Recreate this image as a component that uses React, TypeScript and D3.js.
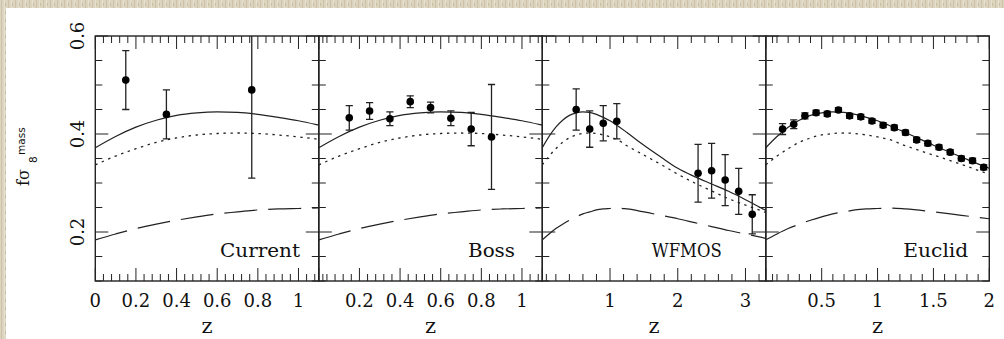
import React from 'react';
import * as d3 from 'd3';

// ---- model curves (shared by all panels) ----
const curveZ = [0, 0.1, 0.2, 0.3, 0.4, 0.5, 0.6, 0.7, 0.8, 0.9, 1.0, 1.1, 1.25, 1.5, 1.75, 2.0, 2.25, 2.5, 2.75, 3.0, 3.3];
const solidCurve = [0.372, 0.395, 0.414, 0.428, 0.438, 0.443, 0.445, 0.444, 0.440, 0.434, 0.427, 0.418, 0.403, 0.377, 0.353, 0.330, 0.313, 0.298, 0.283, 0.266, 0.244];
const dottedCurve = [0.337, 0.355, 0.370, 0.383, 0.392, 0.398, 0.401, 0.402, 0.401, 0.398, 0.394, 0.389, 0.376, 0.357, 0.338, 0.318, 0.300, 0.284, 0.268, 0.255, 0.240];
const dashedCurve = [0.184, 0.196, 0.207, 0.216, 0.224, 0.231, 0.237, 0.241, 0.245, 0.247, 0.248, 0.249, 0.247, 0.241, 0.234, 0.227, 0.219, 0.211, 0.203, 0.196, 0.187];

// ---- data points ----
const currentZ = [0.15, 0.35, 0.77];
const currentVal = [0.51, 0.44, 0.49];
const currentErr = [0.06, 0.05, 0.18];

const bossZ = [0.15, 0.25, 0.35, 0.45, 0.55, 0.65, 0.75, 0.85];
const bossVal = [0.433, 0.447, 0.431, 0.466, 0.454, 0.432, 0.41, 0.394];
const bossErr = [0.025, 0.017, 0.014, 0.012, 0.011, 0.015, 0.034, 0.107];

const wfmosZ = [0.5, 0.7, 0.9, 1.1, 2.3, 2.5, 2.7, 2.9, 3.1];
const wfmosVal = [0.45, 0.41, 0.422, 0.426, 0.32, 0.325, 0.306, 0.283, 0.236];
const wfmosErr = [0.042, 0.037, 0.036, 0.036, 0.059, 0.056, 0.052, 0.047, 0.04];

const euclidZ = [0.15, 0.25, 0.35, 0.45, 0.55, 0.65, 0.75, 0.85, 0.95, 1.05, 1.15, 1.25, 1.35, 1.45, 1.55, 1.65, 1.75, 1.85, 1.95];
const euclidVal = [0.41, 0.42, 0.437, 0.4435, 0.441, 0.449, 0.437, 0.435, 0.4265, 0.418, 0.413, 0.403, 0.388, 0.381, 0.373, 0.363, 0.350, 0.3455, 0.332];
const euclidErr = [0.011, 0.009, 0.006, 0.005, 0.005, 0.005, 0.005, 0.005, 0.005, 0.005, 0.005, 0.005, 0.005, 0.005, 0.005, 0.005, 0.005, 0.005, 0.005];

// ---- panels / axes ----
const panelNames = ['Current', 'Boss', 'WFMOS', 'Euclid'];
const panelZMax = [1.1, 1.1, 3.3, 2];
const panelMajorStep = [0.2, 0.2, 1, 0.5];
const panelMinorStep = [0.04, 0.04, 0.2, 0.1];
const panelTickLabels = [
  ['0', '0.2', '0.4', '0.6', '0.8', '1'],
  ['0.2', '0.4', '0.6', '0.8', '1'],
  ['1', '2', '3'],
  ['0.5', '1', '1.5', '2'],
];
const yTickLabels = ['0.2', '0.4', '0.6'];
const yDomain = [0.1, 0.6];
const yMajorStep = 0.2;
const yMinorStep = 0.05;

const panelPoints = [
  { z: currentZ, v: currentVal, e: currentErr },
  { z: bossZ, v: bossVal, e: bossErr },
  { z: wfmosZ, v: wfmosVal, e: wfmosErr },
  { z: euclidZ, v: euclidVal, e: euclidErr },
];

// layout (not data)
const W = 1004;
const H = 339;
const plotTop = 36;
const plotBottom = 281;
const plotLeft = 95.3;
const panelW = 223.5;
const labelEndFrac = [0.916, 0.878, 0.803, 0.906];
const labelWidths = [80, 47, 70, 65];
const INK = '#222';
const FONT = '"DejaVu Serif", serif';

function ticks(max: number, step: number) {
  const n = Math.round(max / step + 1e-6);
  return d3.range(0, n + 1).map((i) => +(i * step).toFixed(6));
}

export default function App() {
  const y = d3.scaleLinear().domain(yDomain).range([plotBottom, plotTop]);
  const yMinor = ticks(yDomain[1], yMinorStep).filter((v) => v > yDomain[0] - 1e-9);
  const yMajor = ticks(yDomain[1], yMajorStep).filter((v) => v > yDomain[0] - 1e-9);

  const curves = [
    { vals: solidCurve, dash: undefined as string | undefined, w: 1.2 },
    { vals: dottedCurve, dash: '2.4 4.6', w: 1.3 },
    { vals: dashedCurve, dash: '33 11', w: 1.2 },
  ];

  return (
    <svg width={W} height={H} style={{ position: 'absolute', left: 0, top: 0, background: '#fff' }}>
      <defs>
        <pattern id="tex" width="7" height="8" patternUnits="userSpaceOnUse">
          <rect width="7" height="8" fill="#ddd4bf" />
          <rect x="1" width="1" height="8" fill="#cdc2a8" />
          <rect x="4" width="1" height="8" fill="#e6dfcd" />
          <rect x="5" y="3" width="1" height="3" fill="#c9bda2" />
        </pattern>
        {panelNames.map((_, i) => (
          <clipPath id={`clip${i}`} key={i}>
            <rect x={plotLeft + i * panelW} y={plotTop} width={panelW} height={plotBottom - plotTop} />
          </clipPath>
        ))}
      </defs>
      <rect x={0} y={0} width={W} height={H} fill="#fff" />
      <rect x={0} y={0} width={W} height={8} fill="url(#tex)" />
      <rect x={0} y={0} width={6} height={H} fill="url(#tex)" />

      {panelNames.map((name, i) => {
        const x0 = plotLeft + i * panelW;
        const x = d3.scaleLinear().domain([0, panelZMax[i]]).range([x0, x0 + panelW]);
        const minor = ticks(panelZMax[i], panelMinorStep[i]);
        const major = ticks(panelZMax[i], panelMajorStep[i]);
        const line = d3
          .line<[number, number]>()
          .x((d) => x(d[0]))
          .y((d) => y(d[1]))
          .curve(d3.curveMonotoneX);
        const pts = panelPoints[i];
        const capW = 3.6;
        const r = 3.8;
        return (
          <g key={name}>
            <g clipPath={`url(#clip${i})`}>
              {curves.map((c, k) => (
                <path
                  key={k}
                  d={line(curveZ.map((z, j) => [z, c.vals[j]] as [number, number])) || ''}
                  fill="none"
                  stroke={INK}
                  strokeWidth={c.w}
                  strokeDasharray={c.dash}
                />
              ))}
              {pts.z.map((z, j) => {
                const cx = x(z);
                const yt = y(pts.v[j] + pts.e[j]);
                const yb = y(pts.v[j] - pts.e[j]);
                return (
                  <g key={j}>
                    <line x1={cx} x2={cx} y1={yt} y2={yb} stroke={INK} strokeWidth={1.3} />
                    <line x1={cx - capW} x2={cx + capW} y1={yt} y2={yt} stroke={INK} strokeWidth={1.3} />
                    <line x1={cx - capW} x2={cx + capW} y1={yb} y2={yb} stroke={INK} strokeWidth={1.3} />
                    <circle cx={cx} cy={y(pts.v[j])} r={r} fill="#000" />
                  </g>
                );
              })}
            </g>
            {minor.map((t) => {
              const isMajor = major.some((m) => Math.abs(m - t) < 1e-6);
              const len = isMajor ? 13 : 7;
              return (
                <g key={`xt${t}`} stroke={INK} strokeWidth={1}>
                  <line x1={x(t)} x2={x(t)} y1={plotBottom} y2={plotBottom - len} />
                  <line x1={x(t)} x2={x(t)} y1={plotTop} y2={plotTop + len} />
                </g>
              );
            })}
            {yMinor.map((t) => {
              const isMajor = yMajor.some((m) => Math.abs(m - t) < 1e-6);
              const len = isMajor ? 13 : 7;
              return (
                <g key={`yt${t}`} stroke={INK} strokeWidth={1}>
                  <line x1={x0} x2={x0 + len} y1={y(t)} y2={y(t)} />
                  <line x1={x0 + panelW} x2={x0 + panelW - len} y1={y(t)} y2={y(t)} />
                </g>
              );
            })}
            <rect x={x0} y={plotTop} width={panelW} height={plotBottom - plotTop} fill="none" stroke={INK} strokeWidth={1.4} />
            {panelTickLabels[i].map((lab) => (
              <text key={lab} x={x(parseFloat(lab))} y={306.5} textAnchor="middle" fontFamily={FONT} fontSize={18} fill="#111">
                {lab}
              </text>
            ))}
            <text x={x0 + panelW / 2} y={333} textAnchor="middle" fontFamily={FONT} fontSize={21} fill="#111">
              z
            </text>
            <text
              x={x0 + labelEndFrac[i] * panelW}
              y={257}
              textAnchor="end"
              fontFamily={FONT}
              fontSize={18}
              fill="#111"
              textLength={labelWidths[i]}
              lengthAdjust="spacingAndGlyphs"
            >
              {name}
            </text>
          </g>
        );
      })}

      {yTickLabels.map((lab) => (
        <text
          key={lab}
          transform={`translate(83.5,${y(parseFloat(lab))}) rotate(-90)`}
          textAnchor="middle"
          fontFamily={FONT}
          fontSize={18}
          fill="#111"
        >
          {lab}
        </text>
      ))}

      <g transform="translate(29,158) rotate(-90)" fill="#111">
        <text x={-28} y={0} fontFamily={FONT} fontSize={16}>
          fσ
        </text>
        <text x={-5} y={8} fontFamily='"DejaVu Sans", sans-serif' fontSize={10.5}>
          8
        </text>
        <text x={3} y={-4} fontFamily='"DejaVu Sans", sans-serif' fontSize={10.5}>
          mass
        </text>
      </g>
    </svg>
  );
}
